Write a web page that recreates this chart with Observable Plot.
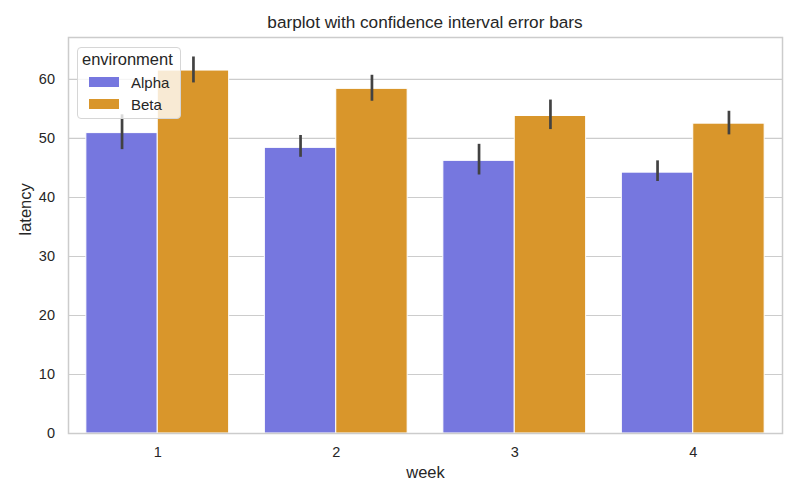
<!DOCTYPE html>
<html>
<head>
<meta charset="utf-8">
<script src="https://cdn.jsdelivr.net/npm/d3@7"></script>
<script src="https://cdn.jsdelivr.net/npm/@observablehq/plot@0.6"></script>
<style>
  html, body { margin: 0; padding: 0; background: #fff; }
  #wrap { position: relative; width: 800px; height: 500px; font-family: "Liberation Sans", Arial, sans-serif; color: #262626; }
  #title { position: absolute; top: 12px; left: 68px; width: 714px; text-align: center; font-size: 17.2px; line-height: 20px; }
  #chart { position: absolute; top: 36px; left: 0; }
  #legend { position: absolute; left: 77px; top: 47px; width: 104px; height: 72px; background: rgba(255,255,255,0.8); border: 1px solid #d6d6d6; border-radius: 4px; box-sizing: border-box; }
  #legend .lt { position: absolute; left: 4px; top: 2px; font-size: 16.5px; line-height: 19px; }
  #legend .sw { position: absolute; left: 11px; width: 30px; height: 10px; }
  #legend .lb { position: absolute; left: 53px; font-size: 15px; line-height: 17px; }
</style>
</head>
<body>
<div id="wrap">
  <div id="title">barplot with confidence interval error bars</div>
  <div id="chart"></div>
  <div id="legend"></div>
</div>
<script>
const weeks = [1, 2, 3, 4];
const environments = ["Alpha", "Beta"];
const colors = ["#7677df", "#d9962b"];
const alphaMean = [50.9, 48.4, 46.2, 44.2];
const alphaLo = [48.1, 46.8, 43.8, 42.7];
const alphaHi = [54.0, 50.5, 49.0, 46.2];
const betaMean = [61.5, 58.4, 53.8, 52.5];
const betaLo = [59.4, 56.3, 51.5, 50.6];
const betaHi = [63.8, 60.7, 56.5, 54.6];
const yTicks = [0, 10, 20, 30, 40, 50, 60];

const rows = [];
weeks.forEach((w, i) => {
  rows.push({week: w, env: "Alpha", mean: alphaMean[i], lo: alphaLo[i], hi: alphaHi[i], side: -1});
  rows.push({week: w, env: "Beta", mean: betaMean[i], lo: betaLo[i], hi: betaHi[i], side: 1});
});
const half = 0.4; // each group occupies 0.8 of a week's slot

const plot = Plot.plot({
  width: 800,
  height: 464,
  marginTop: 1,
  marginBottom: 67,
  marginLeft: 68,
  marginRight: 18,
  style: { fontFamily: "Liberation Sans, Arial, sans-serif", fontSize: "14.5px", color: "#262626", background: "white" },
  x: { type: "linear", domain: [0.5, 4.5] },
  y: { domain: [0, 67.1] },
  color: { domain: environments, range: colors },
  marks: [
    Plot.ruleY(yTicks, { stroke: "#cccccc", strokeWidth: 1.1 }),
    Plot.rectY(rows, {
      x1: d => d.side < 0 ? d.week - half : d.week,
      x2: d => d.side < 0 ? d.week : d.week + half,
      y1: 0, y2: "mean", fill: "env", stroke: "white", strokeWidth: 1
    }),
    Plot.ruleX(rows, {
      x: d => d.week + d.side * half / 2,
      y1: "lo", y2: "hi", stroke: "#424242", strokeWidth: 2.7
    }),
    Plot.axisX({ ticks: weeks, tickSize: 0, tickPadding: 13.5, label: null, tickFormat: d => String(d), fontSize: 14.5 }),
    Plot.axisY({ ticks: yTicks, tickSize: 0, tickPadding: 13.5, label: null, fontSize: 14.5 }),
    Plot.frame({ stroke: "#cccccc", strokeWidth: 1.5 }),
    Plot.text(["week"], { frameAnchor: "bottom", dy: 44, fontSize: 16.5, fill: "#262626" }),
    Plot.text(["latency"], { frameAnchor: "left", dx: -43, rotate: -90, fontSize: 16.5, fill: "#262626" })
  ]
});
document.getElementById("chart").appendChild(plot);

const legend = document.getElementById("legend");
let html = '<div class="lt">environment</div>';
environments.forEach((e, i) => {
  const top = 29 + i * 22;
  html += `<div class="sw" style="top:${top}px;background:${colors[i]}"></div>`;
  html += `<div class="lb" style="top:${top - 3}px">${e}</div>`;
});
legend.innerHTML = html;
</script>
</body>
</html>
